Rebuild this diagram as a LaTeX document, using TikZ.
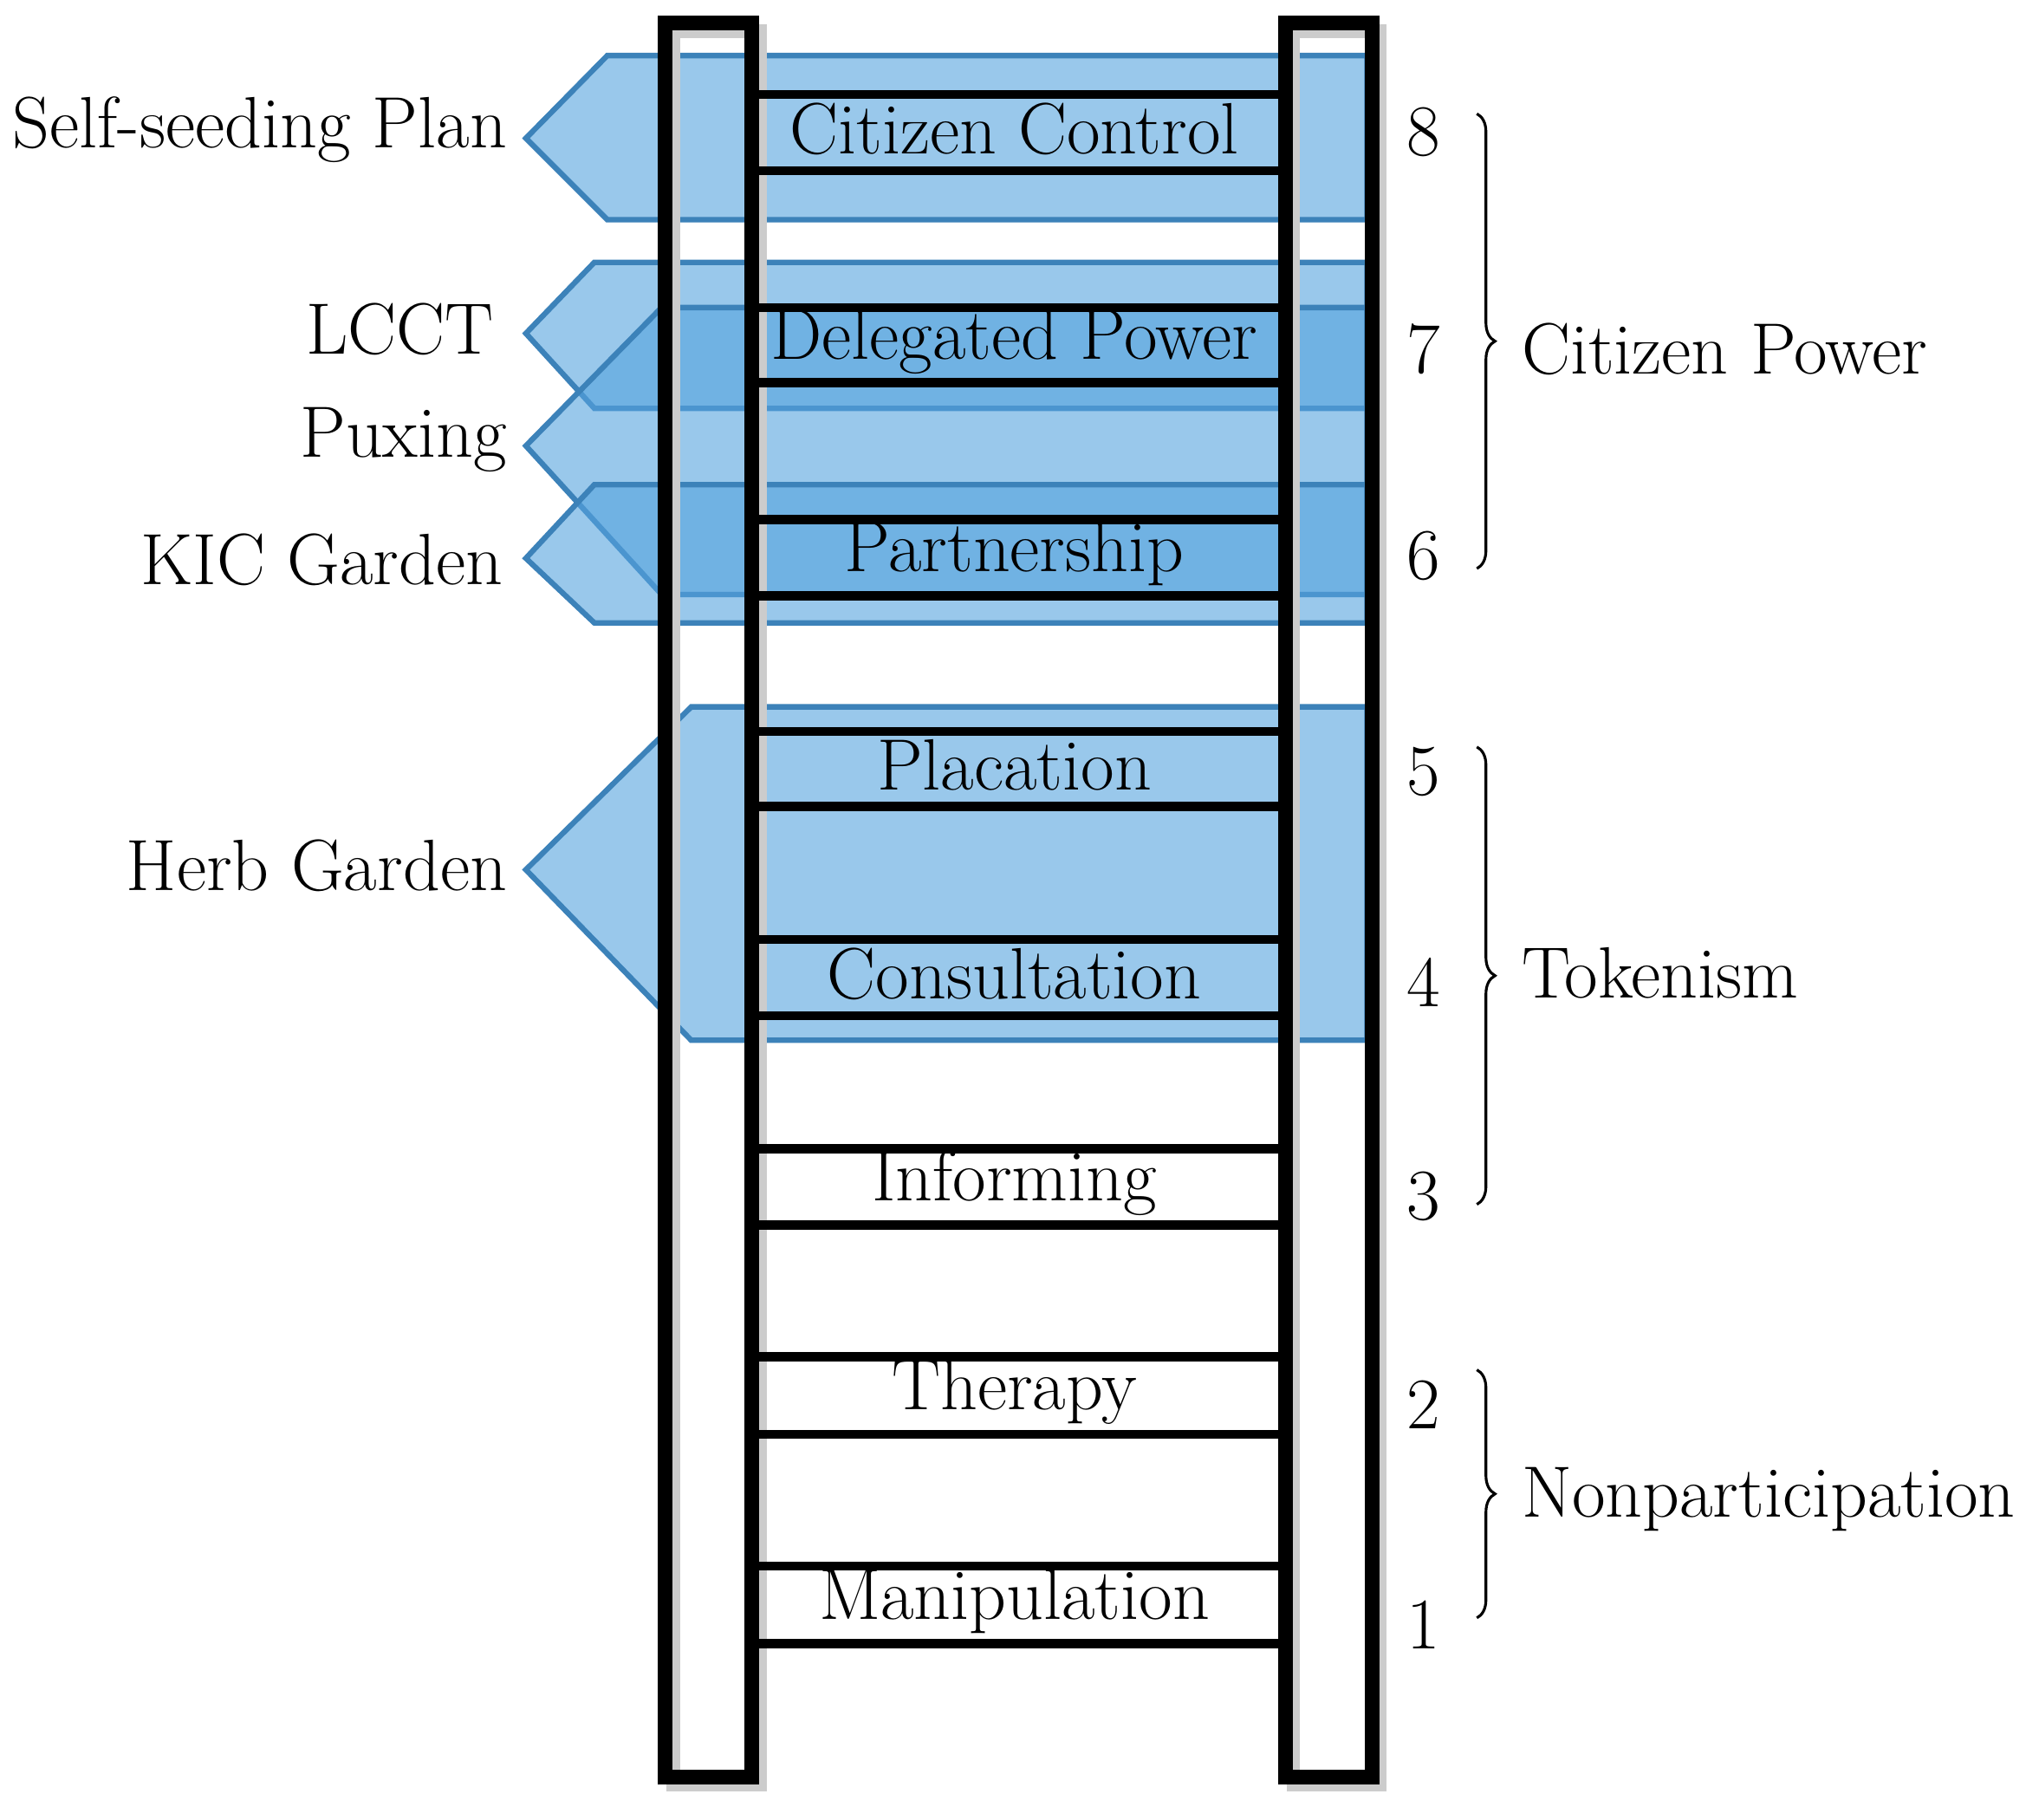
\documentclass[tikz,border=0pt]{standalone}
\usetikzlibrary{decorations.pathreplacing}
\begin{document}
\begin{tikzpicture}[x=0.01cm,y=-0.01cm,
  arr/.style={fill={rgb,255:red,85;green,163;blue,222},fill opacity=0.6,draw={rgb,255:red,60;green,130;blue,185},line width=1.2pt},
  rail/.style={draw=black,line width=3.2pt},
  rung/.style={draw=black,line width=2pt},
  lab/.style={font=\fontsize{16}{18}\selectfont,inner sep=0},
  brace/.style={decorate,decoration={brace,amplitude=4pt},draw=black,line width=0.6pt}]
\useasboundingbox (0,0) rectangle (1568,1408);
% arrows
\draw[arr] (1058,43)--(470,43)--(407,107)--(470,170)--(1058,170)--cycle;
\draw[arr] (1058,203)--(460,203)--(407,258)--(460,316)--(1058,316)--cycle;
\draw[arr] (1058,238)--(512,238)--(407,345)--(512,460)--(1058,460)--cycle;
\draw[arr] (1058,375)--(460,375)--(407,432)--(460,482)--(1058,482)--cycle;
\draw[arr] (1058,547)--(535,547)--(407,673)--(535,805)--(1058,805)--cycle;
% rail shadows
\draw[line width=3pt,black!20] (521,24) rectangle (588,1381);
\draw[line width=3pt,black!20] (1001,24) rectangle (1068,1381);
% rungs
\foreach \t/\b/\n/\s in {73/132/cc/Citizen Control,238/296/dp/Delegated Power,402/461/pa/Partnership,566/624/pl/Placation,727/786/co/Consultation,889/948/in/Informing,1050/1110/th/Therapy,1212/1272/ma/Manipulation}{
  \draw[rung] (582,\t)--(995,\t) (582,\b)--(995,\b);
  \node[lab] (\n) at (785,{(\t+\b)/2-3}) {\s};
}
\node[rail,minimum width=0.67cm,minimum height=13.57cm,inner sep=0] (lr) at (548.5,696.5) {};
\node[rail,minimum width=0.67cm,minimum height=13.57cm,inner sep=0] (rr) at (1028.5,696.5) {};
% left labels
\node[lab,anchor=east] (ss) at (393,100) {Self-seeding Plan};
\node[lab,anchor=east] (lc) at (383,255) {LCCT};
\node[lab,anchor=east] (pu) at (393,340) {Puxing};
\node[lab,anchor=east] (kic) at (390,433) {KIC Garden};
\node[lab,anchor=east] (hg) at (393,670) {Herb Garden};
% numbers
\foreach \y/\n in {102/8,270/7,430/6,597/5,760/4,926/3,1087/2,1257/1}{\node[lab] (n\n) at (1102,\y) {\n};}
% braces
\draw[brace] (1143,88)--(1143,440);
\draw[brace] (1143,578)--(1143,932);
\draw[brace] (1143,1060)--(1143,1252);
\node[lab,anchor=west] (cp) at (1177,270) {Citizen Power};
\node[lab,anchor=west] (tk) at (1177,753) {Tokenism};
\node[lab,anchor=west] (np) at (1177,1160) {Nonparticipation};
\end{tikzpicture}
\end{document}
